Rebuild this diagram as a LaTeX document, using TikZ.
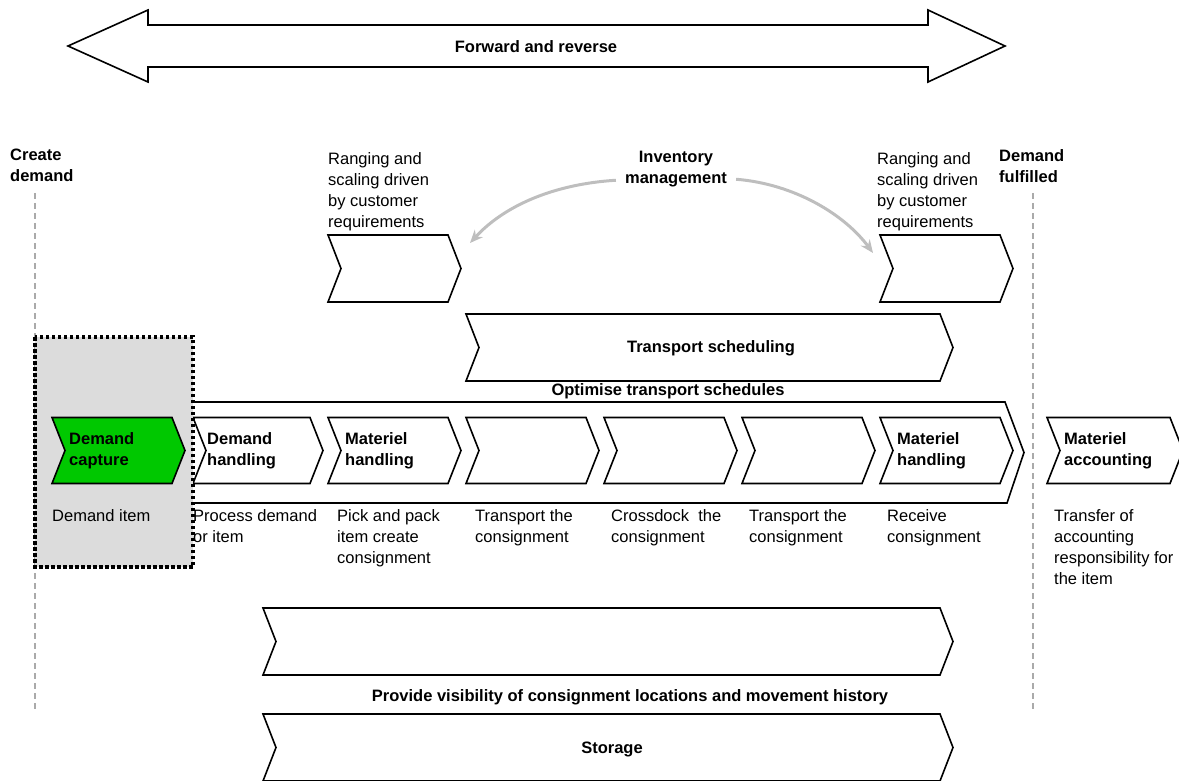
\documentclass[tikz,border=0pt]{standalone}
\usepackage{fontspec}
\setmainfont{Liberation Sans}
\usetikzlibrary{arrows.meta,calc}
\definecolor{chevgreen}{RGB}{0,200,0}
\definecolor{boxgray}{RGB}{220,220,220}
\definecolor{arrgray}{RGB}{190,190,190}
\definecolor{linegray}{RGB}{170,170,170}
\tikzset{
  chev/.style={draw=black, line width=1.6pt, fill=white, line join=miter},
  txt/.style={inner sep=0pt, align=left, anchor=north west, font=\fontsize{16.5}{21}\selectfont},
  btxt/.style={txt, font=\fontsize{16.5}{21}\selectfont\bfseries},
  ctxt/.style={inner sep=0pt, align=center, font=\fontsize{16.5}{21}\selectfont\bfseries},
  garrow/.style={draw=arrgray, line width=3pt, -{Stealth[length=13pt,width=11pt]}},
  vline/.style={draw=linegray, line width=1.8pt, dash pattern=on 6pt off 4pt},
}
\newcommand\chev[5][]{\draw[chev,#1] (#2,#3) -- ({#4-13},#3) -- (#4,{(#3+#5)/2}) -- ({#4-13},#5) -- (#2,#5) -- ({#2+13},{(#3+#5)/2}) -- cycle;}
\begin{document}
\begin{tikzpicture}[x=1pt,y=-1pt]
\useasboundingbox (0,0) rectangle (1179,781);
% double arrow
\draw[chev] (68,46) -- (148,10) -- (148,25) -- (928,25) -- (928,10) -- (1005,46) -- (928,82) -- (928,67) -- (148,67) -- (148,82) -- cycle;
\node[ctxt] (fr) at (536,47) {Forward and reverse};
% vertical dashed lines
\draw[vline] (35,193) -- (35,712);
\draw[vline] (1033,193) -- (1033,712);
% top labels
\node[btxt] (create) at (10,149) {Create\\demand};
\node[btxt] (fulfilled) at (999,149) {Demand\\fulfilled};
\node[txt] (rangeL) at (328,152) {Ranging and\\scaling driven\\by customer\\requirements};
\node[txt] (rangeR) at (877,152) {Ranging and\\scaling driven\\by customer\\requirements};
\node[ctxt, anchor=north] (inv) at (676,151) {Inventory\\management};
% top chevrons
\chev{328}{235}{461}{302}
\chev{880}{235}{1013}{302}
\coordinate (tL) at (470,243);
\coordinate (tR) at (873,253);
\draw[garrow] ($(inv.south west)+(-9,-7)$) .. controls (555,184) and (505,205) .. (tL);
\draw[garrow] ($(inv.south east)+(9,-8)$) .. controls (795,184) and (845,215) .. (tR);
% transport scheduling
\chev{466}{314}{953}{381}
\node[ctxt] (ts) at (711,348) {Transport scheduling};
\node[ctxt] (opt) at (668,391) {Optimise transport schedules};
% outer chevron
\draw[chev] (180,402) -- (1005,402) -- (1024,452.5) -- (1007,503) -- (180,503) -- cycle;
% inner chevrons
\chev{193}{417.5}{323}{483.5}
\chev{328}{417.5}{461}{483.5}
\chev{466}{417.5}{599}{483.5}
\chev{604}{417.5}{737}{483.5}
\chev{742}{417.5}{875}{483.5}
\chev{880}{417.5}{1013}{483.5}
\chev{1047}{417.5}{1183}{483.5}
% dotted box
\draw[fill=boxgray, draw=black, line width=3.5pt, dash pattern=on 3.5pt off 2.5pt] (35,337) rectangle (193,567);
\chev[fill=chevgreen]{52}{417.5}{185}{483.5}
% chevron texts
\node[btxt] (dc) at (69,432) {Demand\\capture};
\node[btxt] (dh) at (207,432) {Demand\\handling};
\node[btxt] (mh1) at (345,432) {Materiel\\handling};
\node[btxt] (mh2) at (897,432) {Materiel\\handling};
\node[btxt] (ma) at (1064,432) {Materiel\\accounting};
% below labels
\node[txt] (l1) at (52,509) {Demand item};
\node[txt] (l2) at (193,509) {Process demand\\or item};
\node[txt] (l3) at (337,509) {Pick and pack\\item create\\consignment};
\node[txt] (l4) at (475,509) {Transport the\\consignment};
\node[txt] (l5) at (611,509) {Crossdock\ \ the\\consignment};
\node[txt] (l6) at (749,509) {Transport the\\consignment};
\node[txt] (l7) at (887,509) {Receive\\consignment};
\node[txt] (l8) at (1054,509) {Transfer of\\accounting\\responsibility for\\the item};
% lower chevrons
\chev{263}{608}{953}{675}
\node[ctxt] (vis) at (630,697) {Provide visibility of consignment locations and movement history};
\chev{263}{714}{953}{781}
\node[ctxt] (st) at (612,749) {Storage};
\end{tikzpicture}
\end{document}
